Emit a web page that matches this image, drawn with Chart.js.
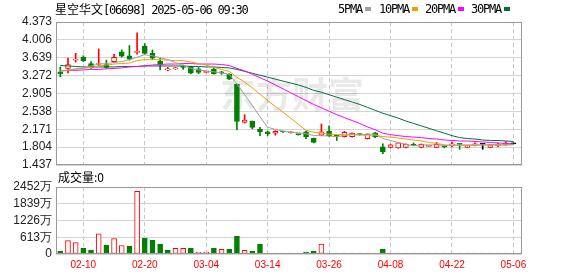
<!DOCTYPE html>
<html>
<head>
<meta charset="utf-8">
<script src="https://cdn.jsdelivr.net/npm/chart.js@4.4.1/dist/chart.umd.min.js"></script>
<style>
  html, body { margin: 0; padding: 0; background: #fff; }
  #wrap { position: relative; width: 578px; height: 276px; overflow: hidden; background: #fff; }
  canvas { position: absolute; left: 0; top: 0; }
  .txt { position: absolute; white-space: nowrap; color: #000; line-height: 18px; }
  .mono { font-family: "DejaVu Sans Mono", monospace; font-size: 12px; letter-spacing: -1.2px; }
  .cjk { font-family: "Noto Sans CJK SC", sans-serif; font-size: 12px; }
  .sq { position: absolute; width: 6px; height: 4px; }
</style>
</head>
<body>
<div id="wrap">
  <canvas id="kline" width="578" height="276"></canvas>
  <canvas id="vol" width="578" height="276"></canvas>
  <div class="txt" style="left:55px;top:0px;"><span class="cjk">星空华文</span><span class="mono">[06698] 2025-05-06 09:30</span></div>
  <div id="legend"></div>
  <div class="txt cjk" style="left:58px;top:168px;">成交量:0</div>
</div>
<script>
// trading days shown on the chart
const dates = ['02-05','02-06','02-07','02-10','02-11','02-12','02-13','02-14','02-17','02-18',
  '02-19','02-20','02-21','02-24','02-25','02-26','02-27','02-28','03-03','03-04',
  '03-05','03-06','03-07','03-10','03-11','03-12','03-13','03-14','03-17','03-18',
  '03-19','03-20','03-21','03-24','03-25','03-26','03-27','03-28','03-31','04-01',
  '04-02','04-03','04-07','04-08','04-09','04-10','04-11','04-14','04-15','04-16',
  '04-17','04-22','04-23','04-24','04-25','04-28','04-29','04-30','05-02','05-06'];

const open = [3.35,3.42,3.59,3.65,3.52,3.50,3.50,3.56,3.76,3.68,
  3.75,3.88,3.73,3.57,3.39,3.41,3.47,3.46,3.41,3.34,
  3.40,3.35,3.30,3.10,2.31,2.34,2.17,2.12,2.09,2.13,
  2.10,2.07,2.12,1.99,2.05,2.13,2.04,2.02,2.02,2.07,
  1.98,2.10,1.81,1.80,1.79,1.80,1.85,1.80,1.82,1.80,
  1.83,1.85,1.87,1.80,1.85,1.86,1.80,1.84,1.86,1.87];
const high = [3.45,3.63,3.73,3.68,3.56,3.82,3.59,3.71,3.80,3.89,
  4.15,3.93,3.80,3.63,3.44,3.44,3.49,3.47,3.44,3.37,
  3.44,3.36,3.31,3.10,2.47,2.34,2.21,2.13,2.14,2.13,
  2.12,2.07,2.14,1.99,2.28,2.24,2.05,2.13,2.10,2.08,
  2.08,2.11,1.87,1.86,1.90,1.87,1.89,1.87,1.83,1.90,
  1.83,1.91,1.87,1.84,1.89,1.87,1.86,1.88,1.92,1.87];
const low = [3.25,3.33,3.55,3.56,3.42,3.48,3.42,3.54,3.65,3.59,
  3.71,3.71,3.60,3.39,3.37,3.40,3.40,3.31,3.31,3.33,
  3.30,3.30,3.19,2.16,2.30,2.18,2.04,2.04,2.05,2.10,
  2.09,2.05,1.98,1.89,2.04,2.02,1.94,2.01,2.01,2.05,
  1.97,2.00,1.67,1.79,1.78,1.79,1.84,1.79,1.82,1.79,
  1.79,1.81,1.76,1.79,1.83,1.76,1.79,1.81,1.84,1.87];
const close = [3.31,3.50,3.60,3.58,3.44,3.52,3.44,3.65,3.67,3.61,
  3.77,3.73,3.63,3.50,3.40,3.42,3.44,3.32,3.34,3.35,
  3.31,3.32,3.20,2.33,2.36,2.21,2.12,2.08,2.13,2.12,
  2.11,2.06,2.02,1.90,2.12,2.04,2.03,2.11,2.09,2.06,
  2.07,2.02,1.71,1.85,1.89,1.86,1.84,1.86,1.83,1.86,
  1.81,1.86,1.86,1.83,1.86,1.86,1.85,1.85,1.87,1.87];

// volume in 万 shares, and whether the bar is drawn as an up day
const volume = [108,490,419,215,144,741,323,562,311,287,
  2296,574,502,359,144,203,203,215,72,72,
  215,167,180,646,132,108,359,36,30,36,
  30,30,72,108,359,30,30,30,30,30,
  30,30,180,30,30,30,30,30,30,30,
  30,30,30,30,30,30,30,30,30,0];
const volUp = [0,1,1,0,0,1,0,1,1,0,
  1,0,0,0,0,1,1,0,1,1,
  0,1,0,0,1,0,0,0,1,0,
  1,0,0,0,1,0,0,1,0,0,
  1,0,0,1,1,0,1,1,0,0,
  0,1,0,0,1,1,0,0,1,0];

const ma5 = [3.37,3.39,3.41,3.43,3.47,3.51,3.52,3.54,3.56,3.60,
  3.65,3.70,3.68,3.64,3.60,3.54,3.48,3.42,3.39,3.37,
  3.35,3.33,3.30,3.10,2.88,2.66,2.43,2.21,2.17,2.13,
  2.11,2.10,2.08,2.04,2.04,2.03,2.02,2.04,2.07,2.06,
  2.07,2.07,1.98,1.94,1.90,1.86,1.83,1.85,1.85,1.85,
  1.84,1.84,1.84,1.84,1.84,1.85,1.85,1.85,1.85,1.86];
const ma10 = [3.36,3.38,3.40,3.42,3.44,3.47,3.49,3.51,3.52,3.53,
  3.58,3.60,3.60,3.60,3.59,3.58,3.58,3.55,3.52,3.49,
  3.44,3.40,3.36,3.24,3.14,3.02,2.89,2.76,2.64,2.52,
  2.40,2.27,2.15,2.11,2.09,2.07,2.06,2.06,2.06,2.05,
  2.05,2.05,2.02,2.01,1.99,1.97,1.95,1.93,1.90,1.88,
  1.85,1.84,1.85,1.85,1.85,1.85,1.85,1.85,1.85,1.85];
const ma20 = [3.37,3.38,3.38,3.39,3.40,3.40,3.41,3.42,3.43,3.45,
  3.46,3.47,3.49,3.50,3.51,3.51,3.52,3.52,3.51,3.51,
  3.51,3.50,3.48,3.42,3.37,3.30,3.23,3.16,3.08,3.00,
  2.92,2.84,2.76,2.68,2.61,2.54,2.47,2.41,2.35,2.29,
  2.22,2.16,2.09,2.06,2.04,2.02,2.01,2.00,1.98,1.97,
  1.95,1.94,1.93,1.93,1.92,1.91,1.90,1.89,1.88,1.87];
const ma30 = [3.48,3.47,3.46,3.45,3.45,3.45,3.45,3.45,3.46,3.46,
  3.46,3.47,3.47,3.47,3.47,3.47,3.47,3.46,3.46,3.45,
  3.45,3.44,3.43,3.40,3.36,3.32,3.28,3.24,3.20,3.16,
  3.12,3.08,3.03,2.97,2.93,2.88,2.83,2.78,2.73,2.68,
  2.62,2.56,2.50,2.45,2.40,2.34,2.29,2.24,2.19,2.14,
  2.09,2.04,2.00,1.98,1.97,1.95,1.94,1.94,1.93,1.92];

const priceTicks = [1.437, 1.804, 2.171, 2.538, 2.905, 3.272, 3.639, 4.006, 4.373];
const volTicks = [0, 613, 1226, 1839, 2452];
const dateTicks = ['02-10','02-20','03-04','03-14','03-26','04-08','04-22','05-06'];
const maNames = ['5PMA', '10PMA', '20PMA', '30PMA'];

const RED = '#ff0000', GREEN = '#008000', FLAT = '#000000';
const maColors = ['#a0a0a0', '#f0a000', '#ff00ff', '#006f3a'];

Chart.defaults.font.family = '"Liberation Sans", Arial, sans-serif';
Chart.defaults.font.size = 12;
Chart.defaults.color = '#222';

const idx = dates.map((d, i) => i);
const tickIdx = dateTicks.map(d => dates.indexOf(d));

function candleColor(i) {
  if (close[i] > open[i]) return RED;
  if (close[i] < open[i]) return GREEN;
  return FLAT;
}

function xAxis(showLabels) {
  return {
    type: 'linear',
    min: -0.56,
    max: 60.12,
    offset: false,
    afterBuildTicks: s => { s.ticks = tickIdx.map(v => ({ value: v })); },
    afterFit: s => { s.height = showLabels ? 22 : 0; },
    grid: { color: '#c8c8c8', drawTicks: false, offset: false },
    border: { display: false, dash: [4, 3] },
    ticks: {
      display: showLabels, color: RED, font: { size: 10 }, padding: 5,
      maxRotation: 0, autoSkip: false, callback: v => dates[v]
    }
  };
}

// plot frame on top, light watermark under the marks
const frame = {
  id: 'frame',
  beforeDatasetsDraw(chart, args, opts) {
    if (!opts.watermark) return;
    const ctx = chart.ctx;
    ctx.save();
    ctx.font = 'bold 36px "Noto Sans CJK SC"';
    ctx.fillStyle = 'rgba(0,0,0,0.085)';
    ctx.textBaseline = 'middle';
    ctx.fillText(opts.watermark, 220, 94);
    ctx.restore();
  },
  afterDraw(chart) {
    const a = chart.chartArea, ctx = chart.ctx;
    ctx.save();
    ctx.strokeStyle = '#999';
    ctx.lineWidth = 1;
    ctx.strokeRect(a.left + 0.5, a.top + 0.5, a.width - 1, a.height - 1);
    ctx.restore();
  }
};

const maSets = [ma5, ma10, ma20, ma30].map((vals, k) => ({
  type: 'line',
  label: maNames[k],
  data: idx.map(i => ({ x: i, y: vals[i] })),
  borderColor: maColors[k],
  borderWidth: 1,
  pointRadius: 0,
  tension: 0,
  order: 1
}));

new Chart(document.getElementById('kline'), {
  type: 'bar',
  data: {
    datasets: [
      ...maSets,
      {
        label: 'body',
        data: idx.map(i => ({ x: i, y: [open[i], close[i]] })),
        backgroundColor: idx.map(i => close[i] > open[i] ? '#ffffff' : candleColor(i)),
        borderColor: idx.map(candleColor),
        borderWidth: 1,
        borderSkipped: false,
        barThickness: 5,
        minBarLength: 1,
        grouped: false,
        order: 2
      },
      {
        label: 'wick',
        data: idx.map(i => ({ x: i, y: [low[i], high[i]] })),
        backgroundColor: idx.map(candleColor),
        borderWidth: 0,
        barThickness: 1,
        minBarLength: 1,
        grouped: false,
        order: 3
      }
    ]
  },
  options: {
    responsive: false,
    animation: false,
    layout: { padding: { left: 0, right: 56, top: 22, bottom: 111 } },
    plugins: { legend: { display: false }, tooltip: { enabled: false }, frame: { watermark: '东方财富' } },
    scales: {
      x: xAxis(false),
      y: {
        position: 'left',
        min: 1.437,
        max: 4.373,
        afterBuildTicks: s => { s.ticks = priceTicks.map(v => ({ value: v })); },
        afterFit: s => { s.width = 56; },
        grid: { color: '#d4d4d4', drawTicks: false },
        border: { display: false },
        ticks: { padding: 4, autoSkip: false, callback: v => v.toFixed(3) }
      }
    }
  },
  plugins: [frame]
});

new Chart(document.getElementById('vol'), {
  type: 'bar',
  data: {
    datasets: [{
      label: 'volume',
      data: idx.map(i => ({ x: i, y: volume[i] })),
      backgroundColor: idx.map(i => volUp[i] ? '#ffffff' : GREEN),
      borderColor: idx.map(i => volUp[i] ? RED : GREEN),
      borderWidth: 1,
      borderSkipped: false,
      barThickness: 5,
      grouped: false
    }]
  },
  options: {
    responsive: false,
    animation: false,
    layout: { padding: { left: 0, right: 56, top: 187, bottom: 0 } },
    plugins: { legend: { display: false }, tooltip: { enabled: false }, frame: {} },
    scales: {
      x: xAxis(true),
      y: {
        position: 'left',
        min: 0,
        max: 2452,
        afterBuildTicks: s => { s.ticks = volTicks.map(v => ({ value: v })); },
        afterFit: s => { s.width = 56; },
        grid: { color: '#d4d4d4', drawTicks: false },
        border: { display: false },
        ticks: { padding: 4, autoSkip: false, callback: v => v === 0 ? '0' : v + '万' }
      }
    }
  },
  plugins: [frame]
});

// legend row at the top right
const legendLeft = [338, 379, 425, 471];
const legend = document.getElementById('legend');
maNames.forEach((name, k) => {
  const t = document.createElement('div');
  t.className = 'txt mono';
  t.style.left = legendLeft[k] + 'px';
  t.style.top = '0px';
  t.textContent = name;
  legend.appendChild(t);
  const sq = document.createElement('div');
  sq.className = 'sq';
  sq.style.left = (legendLeft[k] + name.length * 6 + 3) + 'px';
  sq.style.top = '7px';
  sq.style.background = maColors[k];
  legend.appendChild(sq);
});
</script>
</body>
</html>
